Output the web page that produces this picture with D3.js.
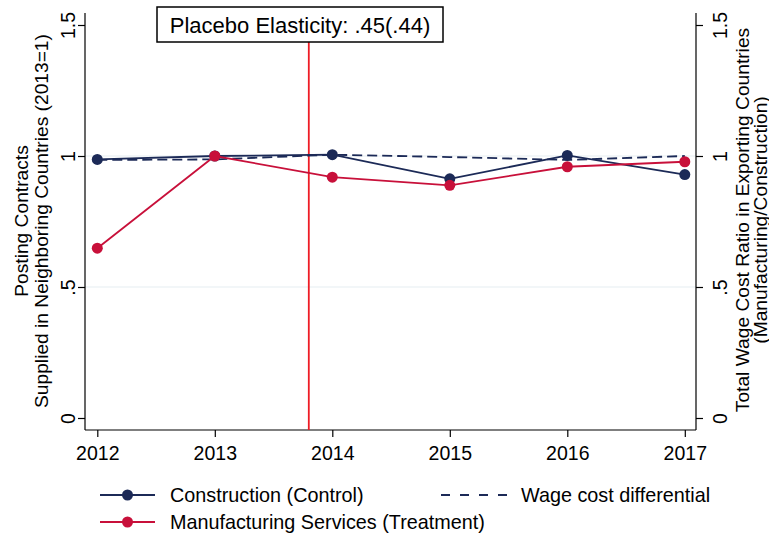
<!DOCTYPE html>
<html><head><meta charset="utf-8">
<script src="https://cdn.jsdelivr.net/npm/d3@7"></script>
<style>body{margin:0;background:#fff}svg{display:block}text{font-family:"Liberation Sans",Arial,sans-serif;fill:#000}</style>
</head><body><svg id="c" width="769" height="535"></svg>
<script>
const years = [2012, 2013, 2014, 2015, 2016, 2017];
const construction = [0.987, 1.0, 1.005, 0.913, 1.002, 0.929];
const manufacturing = [0.648, 1.0, 0.919, 0.888, 0.959, 0.978];
const wageCost = [0.985, 0.987, 1.005, 0.996, 0.985, 1.0];
const yTicks = [0, 0.5, 1, 1.5];
const yTickLabels = ["0", ".5", "1", "1.5"];
const placeboYear = 2013.8;
const boxText = "Placebo Elasticity: .45(.44)";
const leftTitle = ["Posting Contracts", "Supplied in Neighboring Countries (2013=1)"];
const rightTitle = ["Total Wage Cost Ratio in Exporting Countries", "(Manufacturing/Construction)"];
const legendItems = ["Construction (Control)", "Wage cost differential", "Manufacturing Services (Treatment)"];

const NAVY = "#1c2a57", RED = "#c8103a", VRED = "#ee1c25";
const svg = d3.select("#c");
const x = d3.scaleLinear().domain([2012, 2017]).range([97.3, 684.8]);
const y = d3.scaleLinear().domain([0, 1.5]).range([418, 25]);
const yR = d3.scaleLinear().domain([0, 1.5]).range([418, 25]);
const L = 85, R = 696, T = 13, B = 430;
const SW = 1.8;

// gridlines
svg.selectAll(".grid").data([0.5, 1]).enter().append("line")
  .attr("x1", L).attr("x2", R).attr("y1", d => y(d)).attr("y2", d => y(d))
  .attr("stroke", "#e6edf1").attr("stroke-width", 1.2);

// axes
const fs = 19.5;
const gl = svg.append("g").attr("transform", `translate(${L},0)`)
  .call(d3.axisLeft(y).tickValues(yTicks).tickFormat((d,i)=>yTickLabels[i]).tickSize(7).tickSizeOuter(0));
gl.select(".domain").attr("d", `M0,${T}V${B}`);
gl.selectAll(".tick text").attr("transform", "rotate(-90)").attr("text-anchor","middle")
  .attr("x", 0).attr("y", -10).attr("dy", 0).style("font-size", fs+"px");

const gr = svg.append("g").attr("transform", `translate(${R},0)`)
  .call(d3.axisRight(yR).tickValues(yTicks).tickFormat((d,i)=>yTickLabels[i]).tickSize(7).tickSizeOuter(0));
gr.select(".domain").attr("d", `M0,${T}V${B}`);
gr.selectAll(".tick text").attr("transform", "rotate(-90)").attr("text-anchor","middle")
  .attr("x", 0).attr("y", 31).attr("dy", 0).style("font-size", fs+"px");

const gb = svg.append("g").attr("transform", `translate(0,${B})`)
  .call(d3.axisBottom(x).tickValues(years).tickFormat(d3.format("d")).tickSize(7).tickSizeOuter(0));
gb.select(".domain").attr("d", `M${L},0H${R}`);
gb.selectAll(".tick text").attr("y", 30).attr("dy", 0).style("font-size", fs+"px");
svg.selectAll(".domain, .tick line").attr("stroke", "#000").attr("stroke-width", 1.2);

// axis titles
const tfs = 19.2;
svg.selectAll(".lt").data(leftTitle).enter().append("text")
  .attr("transform", (d,i) => `translate(${21 + i*20},221) rotate(-90)`)
  .attr("text-anchor","middle").attr("dominant-baseline","central")
  .style("font-size", tfs+"px").text(d=>d);
svg.selectAll(".rt").data(rightTitle).enter().append("text")
  .attr("transform", (d,i) => `translate(${742 + i*18},220) rotate(-90)`)
  .attr("text-anchor","middle").attr("dominant-baseline","central")
  .style("font-size", tfs+"px").text(d=>d);

// placebo line
svg.append("line").attr("x1", x(placeboYear)).attr("x2", x(placeboYear))
  .attr("y1", 42).attr("y2", B).attr("stroke", VRED).attr("stroke-width", 1.8);

// series
const line = d3.line().x((d,i)=>x(years[i])).y(d=>y(d));
const lineR = d3.line().x((d,i)=>x(years[i])).y(d=>yR(d));
svg.append("path").datum(wageCost).attr("d", lineR).attr("fill","none")
  .attr("stroke", NAVY).attr("stroke-width", SW).attr("stroke-dasharray", "10,5");
svg.append("path").datum(construction).attr("d", line).attr("fill","none")
  .attr("stroke", NAVY).attr("stroke-width", SW);
svg.selectAll(".cd").data(construction).enter().append("circle")
  .attr("cx",(d,i)=>x(years[i])).attr("cy", d=>y(d)).attr("r",5.5).attr("fill",NAVY);
svg.append("path").datum(manufacturing).attr("d", line).attr("fill","none")
  .attr("stroke", RED).attr("stroke-width", SW);
svg.selectAll(".md").data(manufacturing).enter().append("circle")
  .attr("cx",(d,i)=>x(years[i])).attr("cy", d=>y(d)).attr("r",5.5).attr("fill",RED);

// box
svg.append("rect").attr("x", 157).attr("y", 7).attr("width", 286).attr("height", 35)
  .attr("fill","#fff").attr("stroke","#000").attr("stroke-width",1.5);
svg.append("text").attr("x", 300).attr("y", 33).attr("text-anchor","middle")
  .style("font-size","22px").text(boxText);

// legend
function legLine(x0, x1, yy, color, dashed, dot) {
  svg.append("line").attr("x1", x0).attr("x2", x1).attr("y1", yy).attr("y2", yy)
    .attr("stroke", color).attr("stroke-width", SW).attr("stroke-dasharray", dashed ? "9,10" : null);
  if (dot) svg.append("circle").attr("cx", (x0+x1)/2).attr("cy", yy).attr("r", 5.5).attr("fill", color);
}
legLine(100, 155, 495, NAVY, false, true);
legLine(441, 508, 495, NAVY, true, false);
legLine(100, 155, 522, RED, false, true);
const lp = [[170,495],[521,495],[170,522]];
svg.selectAll(".lg").data(legendItems).enter().append("text")
  .attr("x",(d,i)=>lp[i][0]).attr("y",(d,i)=>lp[i][1]).attr("dominant-baseline","central")
  .style("font-size", "19.8px").text(d=>d);
</script></body></html>
